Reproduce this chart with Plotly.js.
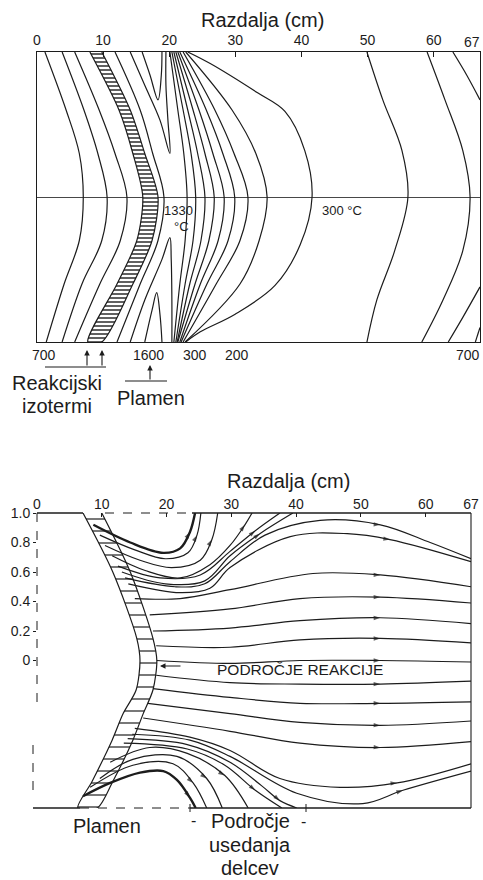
<!DOCTYPE html>
<html><head><meta charset="utf-8">
<script src="https://cdn.plot.ly/plotly-3.0.1.min.js"></script>
<style>html,body{margin:0;padding:0;background:#fff}#chart{width:483px;height:880px}</style>
</head><body><div id="chart"></div>
<script>
// ---------- axis ticks ----------
const xTickVals = [0, 10, 20, 30, 40, 50, 60, 67];
const xTickText = ['0', '10', '20', '30', '40', '50', '60', '67'];
const xTickTextTop = ['0', '10', '20', '30', '40', '50', '60', ''];
const yTickVals = [0, 0.2, 0.4, 0.6, 0.8, 1.0];
const yTickText = ['0', '0.2', '0.4', '0.6', '0.8', '1.0'];

// ---------- top panel: isotherms (x in cm, y relative height -1..1) ----------
const isoY = [1, 0.6, 0.3, 0, -0.3, -0.6, -1];
const isoA1 = [1.2, 4.4, 6.4, 7.0, 6.4, 4.1, 1.4];
const isoA2 = [3.8, 7.1, 9.2, 10.6, 9.8, 6.8, 3.8];
const isoA3 = [5.7, 9.4, 11.8, 13.6, 12.6, 9.5, 5.7];
const bandTopLeft = [8.0, 12.4, 14.5, 16.0, 15.1, 12.1, 7.7];
const bandTopRight = [9.8, 14.1, 16.3, 18.3, 17.4, 14.5, 9.8];
const isoB1 = [11.8, 15.6, 17.5, 19.2, 18.3, 15.6, 12.1];
const isoR1 = [20.1, 21.3, 22.2, 22.7, 22.4, 21.6, 20.7];
const isoR2 = [20.4, 22.1, 23.3, 24.0, 23.6, 22.4, 21.0];
const isoR3 = [20.7, 22.8, 24.3, 25.4, 24.8, 23.1, 21.2];
const isoR4 = [21.0, 23.6, 25.4, 26.8, 26.0, 23.9, 21.3];
const isoR5 = [21.3, 24.5, 26.6, 28.3, 27.4, 24.7, 21.6];
const isoR6 = [21.6, 25.6, 28.1, 29.9, 28.9, 25.7, 21.8];
const isoR7 = [22.1, 26.9, 29.8, 31.9, 30.7, 27.1, 22.1];
const isoR8 = [22.5, 29.5, 33.1, 34.8, 33.6, 30.7, 22.4];
const iso300X = [22.8, 26.2, 33.3, 37.5, 40.5, 41.6, 39.8, 36.0, 29.9, 24.7, 22.5];
const iso300Y = [1, 0.92, 0.72, 0.59, 0.32, 0, -0.33, -0.61, -0.81, -0.93, -1];
const vShallowX = [15.9, 17.1, 18.3, 18.8, 18.9];
const vShallowY = [1, 0.84, 0.67, 0.84, 1];
const vDeepX = [14.1, 16.3, 18.6, 20.1, 19.8, 19.5, 19.5];
const vDeepY = [1, 0.77, 0.53, 0.30, 0.53, 0.77, 1];
const wLowX = [16.3, 17.4, 18.1, 18.6, 18.9];
const wLowY = [-1, -0.78, -0.66, -0.81, -1];
const wHighX = [14.1, 16.3, 18.9, 20.1, 20.3, 20.4, 20.4];
const wHighY = [-1, -0.71, -0.43, -0.28, -0.43, -0.71, -1];
const farY = [1, 0.67, 0.32, 0, -0.37, -0.71, -1];
const iso700aX = [49.9, 52.3, 55.2, 56.1, 54.1, 51.4, 49.9];
const iso700bX = [59.0, 61.7, 64.4, 65.5, 64.4, 61.4, 58.2];
const cornerTopX = [62.9, 65.0, 67.0];
const cornerTopY = [1, 0.84, 0.67];
const cornerBotX = [67.0, 64.4, 62.2];
const cornerBotY = [-0.62, -0.83, -1];
const cornerBot2X = [67.0, 66.3];
const cornerBot2Y = [-0.9, -1];

// ---------- bottom panel: flame band and streamlines ----------
const bandBotY = [1, 0.6, 0.15, 0, -0.2, -0.36, -0.54, -0.82, -1];
const bandBotLeft = [7.1, 11.7, 15.4, 15.9, 15.3, 13.3, 11.6, 8.5, 6.3];
const bandBotRight = [10.0, 14.4, 17.9, 18.5, 17.9, 16.4, 14.8, 11.7, 9.3];

const up1X = [8.7, 14.4, 19.5, 22.1, 23.6, 24.4];
const up1Y = [0.92, 0.80, 0.73, 0.76, 0.87, 1.0];
const up2X = [9.7, 15.1, 19.8, 23.3, 24.7, 25.3];
const up2Y = [0.85, 0.75, 0.69, 0.73, 0.85, 1.0];
const up3X = [10.5, 15.9, 20.8, 25.2, 27.0, 27.9];
const up3Y = [0.78, 0.68, 0.63, 0.68, 0.82, 1.0];
const up4X = [11.6, 16.7, 22.1, 26.7, 29.8, 32.1, 33.2];
const up4Y = [0.71, 0.61, 0.56, 0.65, 0.78, 0.92, 1.0];
const up5X = [12.5, 19.0, 25.2, 29.8, 33.7, 37.5];
const up5Y = [0.64, 0.56, 0.58, 0.74, 0.88, 1.0];
const up6X = [13.1, 19.8, 25.9, 29.8, 34.4, 39.5];
const up6Y = [0.60, 0.52, 0.54, 0.71, 0.86, 1.0];
const topAX = [13.6, 21.3, 25.9, 29.8, 35.2, 43.7, 53.0, 60.7, 67.0];
const topAY = [0.56, 0.50, 0.52, 0.67, 0.85, 0.95, 0.92, 0.80, 0.69];
const topBX = [14.1, 22.1, 26.7, 29.8, 39.1, 47.9, 54.5, 67.0];
const topBY = [0.52, 0.46, 0.49, 0.63, 0.84, 0.86, 0.82, 0.67];
const c0X = [15.1, 22.1, 29.8, 42.6, 53.0, 67.0];
const c0Y = [0.42, 0.42, 0.48, 0.59, 0.58, 0.50];
const c1X = [17.4, 29.8, 40.6, 53.0, 67.0];
const c1Y = [0.31, 0.35, 0.42, 0.43, 0.39];
const c2X = [17.9, 29.8, 40.6, 53.0, 67.0];
const c2Y = [0.20, 0.22, 0.27, 0.29, 0.25];
const c3X = [18.4, 29.8, 40.6, 53.0, 67.0];
const c3Y = [0.10, 0.09, 0.14, 0.15, 0.12];
const c4X = [18.5, 29.8, 40.6, 53.0, 67.0];
const c4Y = [0, -0.02, 0, 0, -0.01];
const c5X = [18.4, 29.8, 40.6, 53.0, 67.0];
const c5Y = [-0.10, -0.15, -0.16, -0.16, -0.14];
const c6X = [17.9, 29.8, 40.6, 53.0, 67.0];
const c6Y = [-0.19, -0.25, -0.29, -0.29, -0.28];
const c7X = [17.1, 29.8, 40.6, 53.0, 67.0];
const c7Y = [-0.29, -0.36, -0.42, -0.44, -0.41];
const c8X = [16.4, 29.8, 40.6, 53.0, 67.0];
const c8Y = [-0.39, -0.48, -0.56, -0.59, -0.55];
const lowDX = [15.1, 23.6, 29.8, 37.5, 46.8, 55.6, 67.0];
const lowDY = [-0.46, -0.52, -0.61, -0.80, -0.86, -0.83, -0.70];
const lowEX = [14.7, 23.6, 29.8, 40.1, 50.3, 56.5, 67.0];
const lowEY = [-0.50, -0.54, -0.65, -0.90, -0.97, -0.88, -0.75];
const dn6X = [14.0, 23.2, 29.8, 34.7, 37.5, 40.1];
const dn6Y = [-0.53, -0.57, -0.69, -0.85, -0.95, -1.0];
const dn5X = [13.4, 23.2, 29.0, 33.7, 37.8];
const dn5Y = [-0.56, -0.60, -0.71, -0.88, -1.0];
const dn4X = [11.3, 17.4, 23.2, 29.0, 32.6];
const dn4Y = [-0.69, -0.59, -0.63, -0.78, -1.0];
const dn3X = [9.7, 14.8, 21.6, 26.2, 28.6];
const dn3Y = [-0.80, -0.67, -0.65, -0.80, -1.0];
const dn2X = [8.2, 14.8, 21.0, 24.1, 26.2];
const dn2Y = [-0.86, -0.71, -0.70, -0.83, -1.0];
const dn1X = [7.1, 11.3, 15.9, 19.5, 21.6, 23.6, 24.5];
const dn1Y = [-0.92, -0.83, -0.76, -0.75, -0.81, -0.93, -1.0];

// ---------- styling ----------
const INK = '#1c1c1c';
const FONT = 'Liberation Sans, Arial, Helvetica, sans-serif';
const W = 483, H = 880;
const PX = v => v / W, PY = v => 1 - v / H;

const traces = [];
function line(x, y, ax, opts) {
  opts = opts || {};
  const t = {
    type: 'scatter', mode: 'lines', x: x, y: y,
    xaxis: ax === 2 ? 'x2' : 'x', yaxis: ax === 2 ? 'y2' : 'y',
    line: {color: INK, width: opts.width || 1.2, shape: 'spline', smoothing: 1},
    hoverinfo: 'skip', showlegend: false
  };
  if (opts.arrowAt !== undefined) {
    t.mode = 'lines+markers';
    t.marker = {symbol: 'arrow', angleref: 'previous', color: INK,
      size: x.map((_, i) => i === opts.arrowAt ? 7 : 0), line: {width: 0}};
  }
  traces.push(t);
}
function band(left, right, yv, ax, pattern) {
  traces.push({
    type: 'scatter', mode: 'lines',
    x: left.concat(right.slice().reverse()),
    y: yv.concat(yv.slice().reverse()),
    xaxis: ax === 2 ? 'x2' : 'x', yaxis: ax === 2 ? 'y2' : 'y',
    fill: 'toself', fillcolor: 'white',
    fillpattern: Object.assign({shape: '-', fgcolor: INK, bgcolor: 'white', fillmode: 'replace'}, pattern),
    line: {color: INK, width: 1.2, shape: 'spline', smoothing: 0.8},
    hoverinfo: 'skip', showlegend: false
  });
}

// top panel
band(bandTopLeft, bandTopRight, isoY, 1, {size: 4, solidity: 0.35});
[isoA1, isoA2, isoA3, isoB1, isoR1, isoR2, isoR3, isoR4, isoR5, isoR6, isoR7, isoR8]
  .forEach(xs => line(xs, isoY, 1));
line(iso300X, iso300Y, 1);
line(vShallowX, vShallowY, 1);
line(vDeepX, vDeepY, 1);
line(wLowX, wLowY, 1);
line(wHighX, wHighY, 1);
line(iso700aX, farY, 1);
line(iso700bX, farY, 1);
line(cornerTopX, cornerTopY, 1);
line(cornerBotX, cornerBotY, 1);
line(cornerBot2X, cornerBot2Y, 1);

// bottom panel
band(bandBotLeft, bandBotRight, bandBotY, 2, {size: 12, solidity: 0.1});
line(up1X, up1Y, 2, {width: 2.4, arrowAt: up1X.length - 2});
line(up2X, up2Y, 2, {arrowAt: up2X.length - 2});
line(up3X, up3Y, 2, {arrowAt: up3X.length - 2});
line(up4X, up4Y, 2, {arrowAt: up4X.length - 2});
line(up5X, up5Y, 2, {arrowAt: up5X.length - 2});
line(up6X, up6Y, 2, {arrowAt: up6X.length - 2});
line(topAX, topAY, 2, {arrowAt: 6});
line(topBX, topBY, 2, {arrowAt: 6});
line(c0X, c0Y, 2, {arrowAt: 4});
[[c1X, c1Y], [c2X, c2Y], [c3X, c3Y], [c4X, c4Y], [c5X, c5Y], [c6X, c6Y], [c7X, c7Y], [c8X, c8Y]]
  .forEach(p => line(p[0], p[1], 2, {arrowAt: 3}));
line(lowDX, lowDY, 2, {arrowAt: 5});
line(lowEX, lowEY, 2, {arrowAt: 5});
line(dn6X, dn6Y, 2, {arrowAt: dn6X.length - 2});
line(dn5X, dn5Y, 2, {arrowAt: dn5X.length - 2});
line(dn4X, dn4Y, 2, {arrowAt: dn4X.length - 2});
line(dn3X, dn3Y, 2, {arrowAt: dn3X.length - 2});
line(dn2X, dn2Y, 2, {arrowAt: dn2X.length - 2});
line(dn1X, dn1Y, 2, {width: 2.4, arrowAt: dn1X.length - 2});

function txt(text, x, y, size, extra) {
  return Object.assign({xref: 'paper', yref: 'paper', x: PX(x), y: PY(y), text: text,
    showarrow: false, xanchor: 'center', yanchor: 'middle',
    font: {family: FONT, size: size, color: INK}}, extra || {});
}
function arrow(x, y, ax, ay) {
  return {xref: 'paper', yref: 'paper', x: PX(x), y: PY(y), ax: ax, ay: ay, text: '',
    showarrow: true, arrowhead: 2, arrowsize: 1, arrowwidth: 1.1, arrowcolor: INK};
}
function seg(x0, y0, x1, y1, dash, width) {
  return {type: 'line', xref: 'paper', yref: 'paper', x0: PX(x0), y0: PY(y0), x1: PX(x1), y1: PY(y1),
    line: {color: INK, width: width || 1.1, dash: dash || 'solid'}};
}

const annotations = [
  txt('Razdalja (cm)', 262, 20, 20),
  txt(xTickText[xTickText.length - 1], 482, 42, 14, {xanchor: 'right'}),
  txt('1330', 178, 210, 13),
  txt('°C', 181, 226, 13),
  txt('300 °C', 342, 210, 13),
  txt('700', 44, 355, 14),
  txt('1600', 148, 355, 14),
  txt('300', 195, 355, 14),
  txt('200', 237, 355, 14),
  txt('700', 482, 355, 14, {xanchor: 'right'}),
  txt('Reakcijski', 57, 383, 20),
  txt('izotermi', 57, 406, 20),
  txt('Plamen', 151, 398, 20),
  arrow(87, 350, 0, 17),
  arrow(102, 350, 0, 17),
  arrow(150, 365, 0, 16),
  txt('Razdalja (cm)', 288, 481, 20),
  txt('PODROČJE REAKCIJE', 300, 669, 15.5),
  arrow(160, 666, 22, 0),
  txt('Plamen', 107, 826, 20),
  txt('Področje', 250, 821, 20),
  txt('usedanja', 250, 845, 20),
  txt('delcev', 250, 868, 20),
  txt('-', 193, 820, 16),
  txt('-', 303, 821, 16)
];

const shapes = [
  seg(45, 367, 106, 367),
  seg(125, 381, 167, 381),
  // bottom panel frame
  seg(37, 513, 83, 513, 'solid', 1.3),
  seg(105, 513, 192, 513, 'dash', 1.1),
  seg(192, 513, 471, 513, 'solid', 1.3),
  seg(37, 513, 37, 705, 'dash', 1),
  seg(33, 745, 33, 795, 'dash', 1),
  seg(471, 513, 471, 808, 'solid', 1.1),
  seg(33, 808, 80, 808, 'solid', 1.3),
  seg(80, 808, 190, 808, 'dash', 1),
  seg(190, 808, 471, 808, 'solid', 1.3),
  seg(190, 804, 190, 812, 'solid', 1),
  seg(306, 804, 306, 812, 'solid', 1)
];

const tickFont = {family: FONT, size: 14, color: INK};
const layout = {
  width: W, height: H,
  margin: {l: 0, r: 0, t: 0, b: 0},
  paper_bgcolor: 'white', plot_bgcolor: 'white',
  showlegend: false,
  xaxis: {domain: [PX(37), PX(480)], range: [0, 67], anchor: 'y', side: 'top',
    showline: true, mirror: true, linecolor: INK, linewidth: 1.3,
    ticks: 'inside', ticklen: 5, tickcolor: INK, tickvals: xTickVals, ticktext: xTickTextTop,
    tickfont: tickFont,
    showgrid: false, zeroline: false, fixedrange: true},
  yaxis: {domain: [PY(342), PY(52)], range: [-1, 1], anchor: 'x',
    showline: true, mirror: true, linecolor: INK, linewidth: 1.3,
    showticklabels: false, ticks: '', showgrid: false,
    zeroline: true, zerolinecolor: '#333', zerolinewidth: 0.9, fixedrange: true},
  xaxis2: {domain: [PX(37), PX(471)], range: [0, 67], anchor: 'y2', side: 'top',
    showline: false, ticks: 'inside', ticklen: 4, tickcolor: INK,
    tickvals: xTickVals, ticktext: xTickText, tickfont: tickFont, ticklabeloverflow: 'allow',
    showgrid: false, zeroline: false, fixedrange: true},
  yaxis2: {domain: [PY(808), PY(513)], range: [-1, 1], anchor: 'x2',
    showline: false, ticks: 'outside', ticklen: 3, tickcolor: INK,
    tickvals: yTickVals, ticktext: yTickText, tickfont: tickFont,
    showgrid: false, zeroline: false, fixedrange: true},
  annotations: annotations,
  shapes: shapes
};

Plotly.newPlot('chart', traces, layout, {staticPlot: true, displayModeBar: false});
</script>
</body></html>
